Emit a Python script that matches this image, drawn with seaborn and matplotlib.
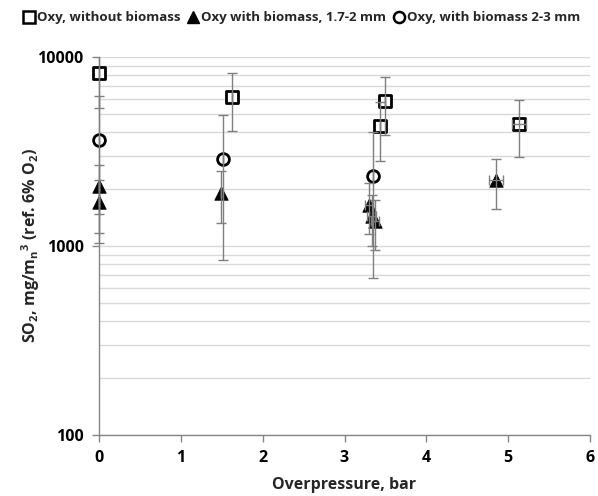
import matplotlib
matplotlib.use("Agg")
import matplotlib.pyplot as plt
import seaborn as sns
import pandas as pd
import numpy as np
from matplotlib.lines import Line2D
from matplotlib.patches import Rectangle
from matplotlib.ticker import LogLocator, NullFormatter

# ---- data ----
sq_x = [0.0, 1.63, 3.43, 3.49, 5.13]
sq_y = [8200, 6130, 4290, 5880, 4430]
sq_err = [2820, 2050, 1460, 2000, 1480]
sq_xerr = [0.0, 0.0, 0.0, 0.0, 0.085]

tr_x = [0.0, 0.0, 1.49, 3.30, 3.33, 3.37, 4.85]
tr_y = [2070, 1702, 1910, 1656, 1436, 1352, 2224]
tr_err = [600, 524, 590, 500, 430, 400, 660]
tr_xerr = [0.0, 0.0, 0.0, 0.05, 0.05, 0.05, 0.085]

ci_x = [0.0, 1.51, 3.35]
ci_y = [3617, 2897, 2340]
ci_err = [2574, 2050, 1660]

labels = ["Oxy, without biomass", "Oxy with biomass, 1.7-2 mm", "Oxy, with biomass 2-3 mm"]
x_ticks = [0, 1, 2, 3, 4, 5, 6]
y_ticks = [100, 1000, 10000]

FONT = "Open Sans"
sns.set_theme(style="white")
plt.rcParams['font.family'] = [FONT, 'DejaVu Sans']
plt.rcParams['font.weight'] = 'bold'
plt.rcParams['mathtext.fontset'] = 'custom'
plt.rcParams['mathtext.rm'] = FONT + ':bold'
plt.rcParams['mathtext.it'] = FONT + ':bold'
plt.rcParams['mathtext.bf'] = FONT + ':bold'
plt.rcParams['mathtext.default'] = 'rm'

df = pd.concat([
    pd.DataFrame({"x": sq_x, "y": sq_y, "err": sq_err, "xerr": sq_xerr, "series": labels[0]}),
    pd.DataFrame({"x": tr_x, "y": tr_y, "err": tr_err, "xerr": tr_xerr, "series": labels[1]}),
    pd.DataFrame({"x": ci_x, "y": ci_y, "err": ci_err, "xerr": 0.0, "series": labels[2]}),
], ignore_index=True)

fig = plt.figure(figsize=(5.98, 4.96), dpi=100)
ax = fig.add_axes([99/598, 1-435/496, (590-99)/598, (435-57)/496])

grid_c = "#d9d9d9"
axis_c = "#868686"
err_c = "#7f7f7f"

# clip region: full height of axes, a little wider than axes horizontally
clip_rect = Rectangle((-0.06, 0.0), 1.12, 1.0, transform=ax.transAxes)

styles = {
    labels[0]: dict(marker="s", s=80, facecolor="white", edgecolor="black", linewidth=2.0),
    labels[1]: dict(marker="^", s=95, facecolor="black", edgecolor="black", linewidth=0.5),
    labels[2]: dict(marker="o", s=72, facecolor="white", edgecolor="black", linewidth=2.0),
}

for lab in labels:
    d = df[df.series == lab]
    sns.scatterplot(data=d, x="x", y="y", ax=ax, legend=False, zorder=3, clip_on=False, **styles[lab])
    eb = ax.errorbar(d["x"], d["y"], yerr=d["err"], xerr=d["xerr"], fmt="none",
                     ecolor=err_c, elinewidth=1.0, capsize=3.5, capthick=1.0, zorder=4)
    for artist in list(eb.lines[1]) + list(eb.lines[2]):
        artist.set_clip_path(clip_rect)

ax.set_yscale("log")
ax.set_xlim(0, 6)
ax.set_ylim(100, 10000)
ax.set_xticks(x_ticks)
ax.set_yticks(y_ticks)
ax.set_yticklabels([str(v) for v in y_ticks])
ax.yaxis.set_minor_locator(LogLocator(base=10, subs=np.arange(2, 10)))
ax.yaxis.set_minor_formatter(NullFormatter())
ax.grid(True, axis="y", which="both", color=grid_c, linewidth=1.0, zorder=0)
ax.grid(False, axis="x")
ax.set_axisbelow(True)

for side in ["top", "right"]:
    ax.spines[side].set_visible(False)
for side in ["left", "bottom"]:
    ax.spines[side].set_color(axis_c)
    ax.spines[side].set_linewidth(1.0)

ax.tick_params(axis="both", which="major", direction="out", length=5, width=1.0,
               color=axis_c, labelsize=11.5, labelcolor="black", pad=6)
ax.tick_params(axis="y", which="minor", length=0)
ax.tick_params(axis="x", bottom=True)
ax.tick_params(axis="y", left=True)

ax.set_xlabel("Overpressure, bar", fontsize=11.5, fontweight="bold", labelpad=8)
ax.set_ylabel(r"SO$_2$, mg/m$_n$$^3$ (ref. 6% O$_2$)", fontsize=11.5, fontweight="bold")
ax.yaxis.set_label_coords((42 - 99) / 491, 0.5)

handles = [
    Line2D([], [], marker="s", linestyle="none", markersize=8, markerfacecolor="white",
           markeredgecolor="black", markeredgewidth=1.8),
    Line2D([], [], marker="^", linestyle="none", markersize=8, markerfacecolor="black",
           markeredgecolor="black"),
    Line2D([], [], marker="o", linestyle="none", markersize=8, markerfacecolor="white",
           markeredgecolor="black", markeredgewidth=1.8),
]
fig.legend(handles, labels, loc="center", bbox_to_anchor=(0.505, 1-18/496), ncol=3,
           frameon=False, handlelength=0.8, handletextpad=0.2,
           columnspacing=0.6, borderpad=0, prop={"family": FONT, "weight": "bold", "size": 9.5})

fig.savefig("out.png", dpi=100)
